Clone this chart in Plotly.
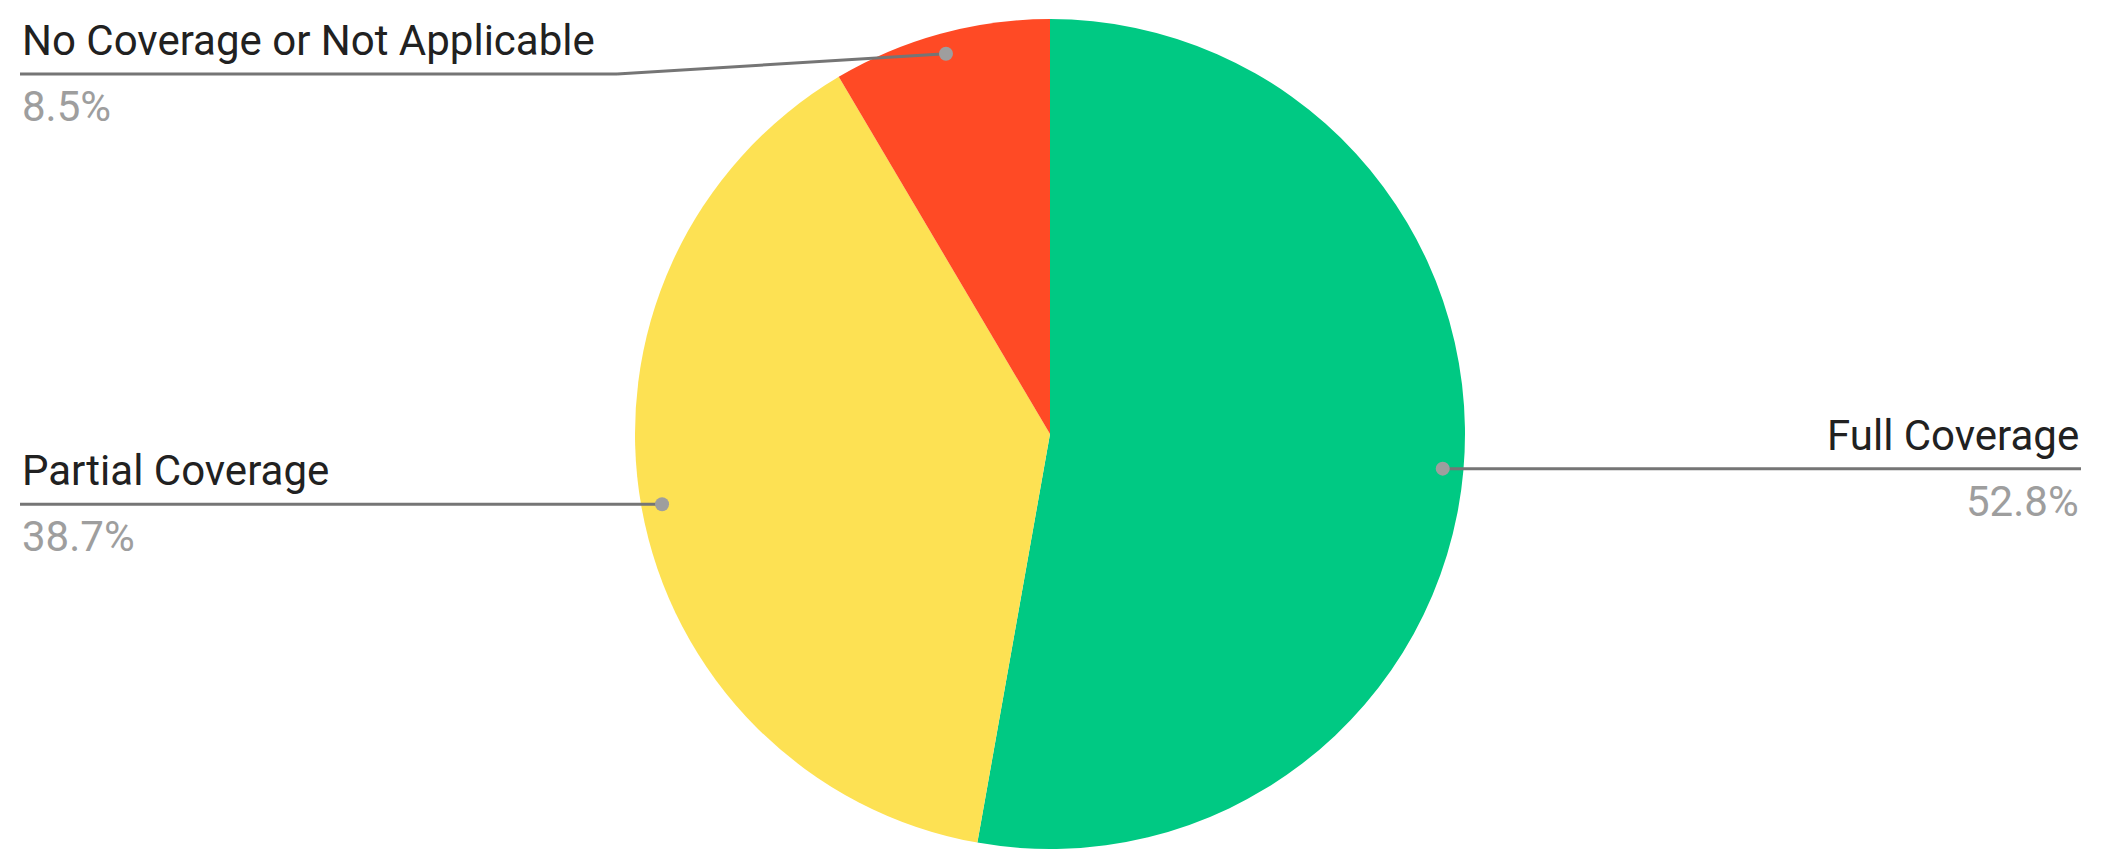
import math
import plotly.graph_objects as go

# ── data ─────────────────────────────────────────────────────────────────────
labels = ["Full Coverage", "Partial Coverage", "No Coverage or Not Applicable"]
values = [52.8, 38.7, 8.5]
colors = ["#00C983", "#FDE153", "#FF4A25"]

W, H = 2102, 864
OFF = 8                              # page body margin
CX, CY, R = 1050, 434, 415          # pie centre / radius in px (screen)
DOT_R = 0.95 * R

# label layout: side, x end of leader line, y of horizontal leader, elbow x
label_pos = [
    dict(side="right", x_end=2081, y=None, elbow=None),
    dict(side="left", x_end=20, y=None, elbow=None),
    dict(side="left", x_end=20, y=74, elbow=617),
]

fig = go.Figure()
fig.add_trace(go.Pie(
    labels=labels, values=values, sort=False, direction="clockwise",
    marker=dict(colors=colors, line=dict(width=0)),
    textinfo="none", hoverinfo="label+percent", showlegend=False,
    domain=dict(x=[(CX - R - OFF) / W, (CX + R - OFF) / W],
                y=[1 - (CY + R - OFF) / H, 1 - (CY - R - OFF) / H]),
))

# leader lines, dots and labels, placed from each slice's mid angle
total = sum(values)
cum = 0
for lab, val, pos in zip(labels, values, label_pos):
    mid = (cum + val / 2) / total * 2 * math.pi
    cum += val
    dx = CX + DOT_R * math.sin(mid)
    dy = CY - DOT_R * math.cos(mid)
    ly = pos["y"] if pos["y"] is not None else dy
    pts = [(dx, dy)]
    if pos["elbow"] is not None:
        pts.append((pos["elbow"], ly))
    pts.append((pos["x_end"], ly))
    for (x0, y0), (x1, y1) in zip(pts[:-1], pts[1:]):
        fig.add_shape(type="line", x0=x0, y0=y0, x1=x1, y1=y1, xref="x", yref="y",
                      line=dict(color="#757575", width=3), layer="above")
    fig.add_shape(type="circle", x0=dx - 7, x1=dx + 7, y0=dy - 7, y1=dy + 7,
                  xref="x", yref="y", fillcolor="#9E9E9E", line=dict(width=0), layer="above")
    anchor = "right" if pos["side"] == "right" else "left"
    fig.add_annotation(
        x=pos["x_end"], y=ly - 7, text=lab, showarrow=False,
        xanchor=anchor, yanchor="bottom", xref="x", yref="y",
        font=dict(family="Roboto", size=42, color="#212121"),
    )
    fig.add_annotation(
        x=pos["x_end"], y=ly + 6, text=f"{val:.1f}%", showarrow=False,
        xanchor=anchor, yanchor="top", xref="x", yref="y",
        font=dict(family="Roboto", size=42, color="#9E9E9E"),
    )

fig.update_xaxes(range=[OFF, W + OFF], visible=False, fixedrange=True)
fig.update_yaxes(range=[H + OFF, OFF], visible=False, fixedrange=True)
fig.update_layout(
    width=W, height=H, margin=dict(l=0, r=0, t=0, b=0),
    paper_bgcolor="white", plot_bgcolor="rgba(0,0,0,0)",
)
fig.write_html("out.html")
